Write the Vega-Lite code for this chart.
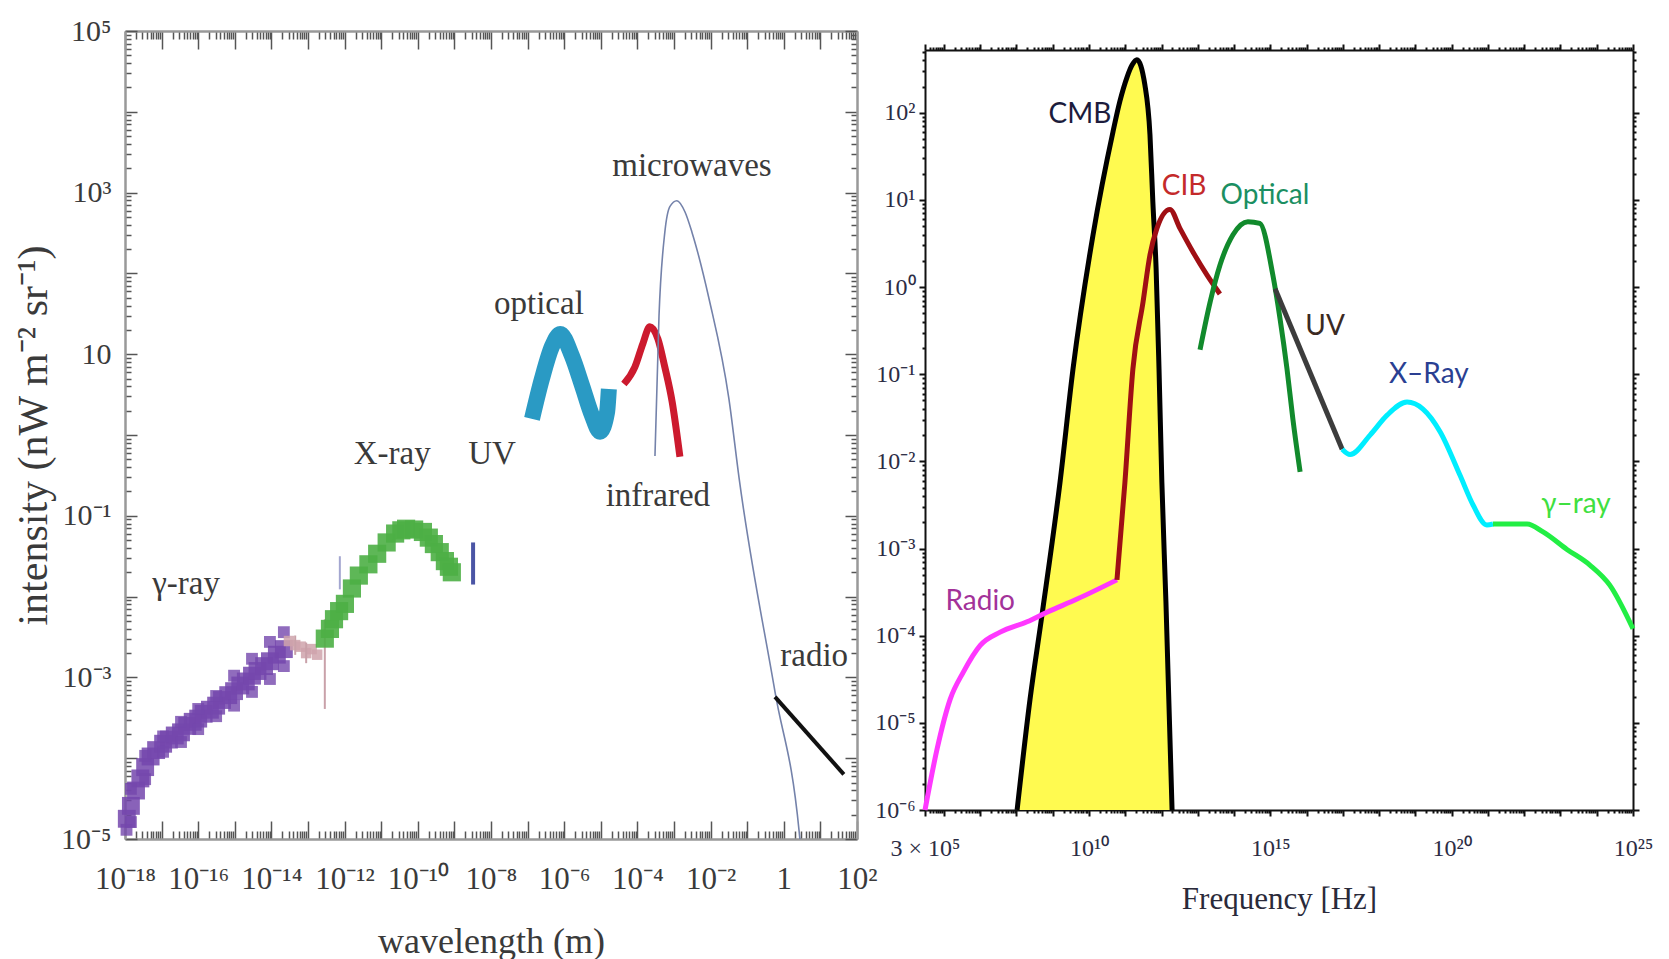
{
  "$schema": "https://vega.github.io/schema/vega-lite/v6.json",
  "background": "white",
  "padding": {"left": 12, "top": 16, "right": 5, "bottom": 0},
  "columns": 2,
  "align": "none",
  "spacing": -4,
  "config": {"view": {"stroke": null}},
  "resolve": {"scale": {"x": "independent", "y": "independent", "color": "independent"}},
  "datasets": {
    "leftPoints": [
      {"wl": 1.12e-18, "I": 1.78e-5, "grp": "gamma"}, {"wl": 1.45e-18, "I": 2.57e-5, "grp": "gamma"}, {"wl": 2.0e-18, "I": 3.98e-5, "grp": "gamma"}, {"wl": 2.63e-18, "I": 5.62e-5, "grp": "gamma"}, {"wl": 3.55e-18, "I": 7.76e-5, "grp": "gamma"}, {"wl": 5.01e-18, "I": 1.05e-4, "grp": "gamma"}, {"wl": 7.08e-18, "I": 1.26e-4, "grp": "gamma"}, {"wl": 1.1e-17, "I": 1.51e-4, "grp": "gamma"}, {"wl": 1.585e-17, "I": 1.7e-4, "grp": "gamma"}, {"wl": 2.29e-17, "I": 1.91e-4, "grp": "gamma"}, {"wl": 3.39e-17, "I": 2.09e-4, "grp": "gamma"}, {"wl": 5.01e-17, "I": 2.51e-4, "grp": "gamma"}, {"wl": 7.08e-17, "I": 2.82e-4, "grp": "gamma"}, {"wl": 1.0e-16, "I": 3.09e-4, "grp": "gamma"}, {"wl": 1.41e-16, "I": 3.55e-4, "grp": "gamma"}, {"wl": 2.09e-16, "I": 3.98e-4, "grp": "gamma"}, {"wl": 3.09e-16, "I": 4.47e-4, "grp": "gamma"}, {"wl": 4.47e-16, "I": 5.25e-4, "grp": "gamma"}, {"wl": 6.61e-16, "I": 6.03e-4, "grp": "gamma"}, {"wl": 9.55e-16, "I": 6.76e-4, "grp": "gamma"}, {"wl": 1.41e-15, "I": 7.94e-4, "grp": "gamma"}, {"wl": 2.0e-15, "I": 8.91e-4, "grp": "gamma"}, {"wl": 2.95e-15, "I": 1.05e-3, "grp": "gamma"}, {"wl": 4.17e-15, "I": 1.2e-3, "grp": "gamma"}, {"wl": 6.31e-15, "I": 1.38e-3, "grp": "gamma"}, {"wl": 9.12e-15, "I": 1.585e-3, "grp": "gamma"}, {"wl": 1.41e-14, "I": 1.91e-3, "grp": "gamma"}, {"wl": 2.19e-14, "I": 2.24e-3, "grp": "gamma"},
      {"wl": 1.1e-18, "I": 1.3e-5, "grp": "edge"}, {"wl": 1.45e-18, "I": 4.17e-5, "grp": "edge"}, {"wl": 1.45e-18, "I": 1.62e-5, "grp": "edge"}, {"wl": 3.55e-18, "I": 1.07e-4, "grp": "edge"}, {"wl": 3.55e-18, "I": 5.5e-5, "grp": "edge"}, {"wl": 1.1e-17, "I": 1.86e-4, "grp": "edge"}, {"wl": 1.1e-17, "I": 1.2e-4, "grp": "edge"}, {"wl": 3.39e-17, "I": 2.82e-4, "grp": "edge"}, {"wl": 3.39e-17, "I": 1.585e-4, "grp": "edge"}, {"wl": 1.0e-16, "I": 4.07e-4, "grp": "edge"}, {"wl": 1.0e-16, "I": 2.29e-4, "grp": "edge"}, {"wl": 3.09e-16, "I": 5.89e-4, "grp": "edge"}, {"wl": 3.09e-16, "I": 3.31e-4, "grp": "edge"}, {"wl": 9.55e-16, "I": 1.05e-3, "grp": "edge"}, {"wl": 9.55e-16, "I": 4.47e-4, "grp": "edge"}, {"wl": 2.95e-15, "I": 1.7e-3, "grp": "edge"}, {"wl": 2.95e-15, "I": 6.61e-4, "grp": "edge"}, {"wl": 9.12e-15, "I": 2.75e-3, "grp": "edge"}, {"wl": 9.12e-15, "I": 9.55e-4, "grp": "edge"}, {"wl": 2.19e-14, "I": 3.63e-3, "grp": "edge"}, {"wl": 2.19e-14, "I": 1.38e-3, "grp": "edge"},
      {"wl": 3.02e-14, "I": 2.82e-3, "grp": "pink"}, {"wl": 4.47e-14, "I": 2.51e-3, "grp": "pink"}, {"wl": 6.31e-14, "I": 2.4e-3, "grp": "pink"}, {"wl": 8.91e-14, "I": 2.0e-3, "grp": "pink"}, {"wl": 1.26e-13, "I": 2.24e-3, "grp": "pink"}, {"wl": 1.78e-13, "I": 1.91e-3, "grp": "pink"},
      {"wl": 2.88e-13, "I": 3.02e-3, "grp": "xray"}, {"wl": 3.98e-13, "I": 3.98e-3, "grp": "xray"}, {"wl": 5.13e-13, "I": 5.25e-3, "grp": "xray"}, {"wl": 7.08e-13, "I": 6.61e-3, "grp": "xray"}, {"wl": 1.02e-12, "I": 8.13e-3, "grp": "xray"}, {"wl": 1.585e-12, "I": 0.0126, "grp": "xray"}, {"wl": 2.45e-12, "I": 0.0182, "grp": "xray"}, {"wl": 4.47e-12, "I": 0.0251, "grp": "xray"}, {"wl": 7.76e-12, "I": 0.0339, "grp": "xray"}, {"wl": 1.41e-11, "I": 0.0468, "grp": "xray"}, {"wl": 2.4e-11, "I": 0.0603, "grp": "xray"}, {"wl": 3.55e-11, "I": 0.0661, "grp": "xray"}, {"wl": 4.79e-11, "I": 0.0692, "grp": "xray"}, {"wl": 7.94e-11, "I": 0.0676, "grp": "xray"}, {"wl": 1.38e-10, "I": 0.0631, "grp": "xray"}, {"wl": 2.0e-10, "I": 0.0537, "grp": "xray"}, {"wl": 2.75e-10, "I": 0.0447, "grp": "xray"}, {"wl": 3.98e-10, "I": 0.0355, "grp": "xray"}, {"wl": 5.5e-10, "I": 0.0275, "grp": "xray"}, {"wl": 7.08e-10, "I": 0.0234, "grp": "xray"}, {"wl": 8.51e-10, "I": 0.02, "grp": "xray"}
    ],
    "leftBars": [
      {"wl": 2.88e-13, "lo": 4.07e-4, "hi": 5.25e-3, "grp": "pink"},
      {"wl": 4.47e-14, "lo": 1.9e-3, "hi": 3.3e-3, "grp": "pink"},
      {"wl": 8.91e-14, "lo": 1.5e-3, "hi": 2.7e-3, "grp": "pink"},
      {"wl": 7.41e-13, "lo": 0.0123, "hi": 0.0316, "grp": "blue"},
      {"wl": 3.24e-9, "lo": 0.0141, "hi": 0.0468, "grp": "uv"}
    ],
    "leftLines": [
      {"wl": 1.32e-7, "I": 1.585, "series": "optical"}, {"wl": 2.45e-7, "I": 4.9, "series": "optical"}, {"wl": 4.68e-7, "I": 12.6, "series": "optical"}, {"wl": 7.76e-7, "I": 17.8, "series": "optical"}, {"wl": 1.62e-6, "I": 9.55, "series": "optical"}, {"wl": 3.09e-6, "I": 4.07, "series": "optical"}, {"wl": 5.75e-6, "I": 1.74, "series": "optical"}, {"wl": 9.55e-6, "I": 1.1, "series": "optical"}, {"wl": 1.48e-5, "I": 1.905, "series": "optical"}, {"wl": 1.66e-5, "I": 3.72, "series": "optical"},
      {"wl": 4.27e-5, "I": 4.27, "series": "infrared"}, {"wl": 8.51e-5, "I": 6.92, "series": "infrared"}, {"wl": 1.41e-4, "I": 13.5, "series": "infrared"}, {"wl": 2.19e-4, "I": 21.9, "series": "infrared"}, {"wl": 3.63e-4, "I": 15.5, "series": "infrared"}, {"wl": 5.62e-4, "I": 6.92, "series": "infrared"}, {"wl": 8.91e-4, "I": 2.57, "series": "infrared"}, {"wl": 1.45e-3, "I": 0.537, "series": "infrared"},
      {"wl": 3.02e-4, "I": 0.55, "series": "microwave"}, {"wl": 3.89e-4, "I": 29.5, "series": "microwave"}, {"wl": 5.62e-4, "I": 324, "series": "microwave"}, {"wl": 7.76e-4, "I": 676, "series": "microwave"}, {"wl": 1.2e-3, "I": 794, "series": "microwave"}, {"wl": 2.0e-3, "I": 575, "series": "microwave"}, {"wl": 3.09e-3, "I": 324, "series": "microwave"}, {"wl": 9.12e-3, "I": 47.9, "series": "microwave"}, {"wl": 0.0316, "I": 2.82, "series": "microwave"}, {"wl": 0.0603, "I": 0.288, "series": "microwave"}, {"wl": 0.575, "I": 6.61e-4, "series": "microwave"}, {"wl": 2.63, "I": 1.23e-5, "series": "microwave"}, {"wl": 2.75, "I": 1.0e-5, "series": "microwave"},
      {"wl": 0.575, "I": 5.75e-4, "series": "radio"}, {"wl": 43.7, "I": 6.31e-5, "series": "radio"}
    ],
    "leftLabels": [
      {"wl": 4.68e-17, "I": 0.0145, "text": "γ-ray"},
      {"wl": 2.0e-11, "I": 0.582, "text": "X-ray"},
      {"wl": 1.07e-8, "I": 0.582, "text": "UV"},
      {"wl": 2.04e-7, "I": 41.7, "text": "optical"},
      {"wl": 3.09e-3, "I": 2138, "text": "microwaves"},
      {"wl": 3.63e-4, "I": 0.176, "text": "infrared"},
      {"wl": 6.76, "I": 1.84e-3, "text": "radio"}
    ],
    "cmb": [
      {"f": 1.04e8, "I": 1e-6}, {"f": 2.36e8, "I": 1.86e-5}, {"f": 5.06e8, "I": 1.74e-4}, {"f": 1.585e9, "I": 5.75e-3}, {"f": 3.62e9, "I": 0.115}, {"f": 1.29e10, "I": 3.98}, {"f": 4.57e10, "I": 60.3}, {"f": 7.08e10, "I": 135}, {"f": 1.12e11, "I": 257}, {"f": 1.55e11, "I": 355}, {"f": 2.09e11, "I": 407}, {"f": 3.47e11, "I": 209}, {"f": 4.79e11, "I": 56.2}, {"f": 5.75e11, "I": 9.55}, {"f": 7.08e11, "I": 1.62}, {"f": 8.51e11, "I": 0.115}, {"f": 1.02e12, "I": 5.75e-3}, {"f": 1.32e12, "I": 2.45e-4}, {"f": 1.95e12, "I": 1e-6}
    ],
    "rightLines": [
      {"f": 3.0e5, "I": 1e-6, "series": "radio"}, {"f": 6.46e5, "I": 5.01e-6, "series": "radio"}, {"f": 1.48e6, "I": 1.86e-5, "series": "radio"}, {"f": 3.39e6, "I": 3.8e-5, "series": "radio"}, {"f": 1.0e7, "I": 7.76e-5, "series": "radio"}, {"f": 3.55e7, "I": 1.1e-4, "series": "radio"}, {"f": 1.95e8, "I": 1.445e-4, "series": "radio"}, {"f": 6.92e8, "I": 1.86e-4, "series": "radio"}, {"f": 4.68e9, "I": 2.63e-4, "series": "radio"}, {"f": 5.89e10, "I": 4.37e-4, "series": "radio"},
      {"f": 5.89e10, "I": 4.37e-4, "series": "cib"}, {"f": 9.77e10, "I": 5.75e-3, "series": "cib"}, {"f": 1.62e11, "I": 0.115, "series": "cib"}, {"f": 3.09e11, "I": 0.676, "series": "cib"}, {"f": 4.79e11, "I": 2.34, "series": "cib"}, {"f": 7.41e11, "I": 4.68, "series": "cib"}, {"f": 1.7e12, "I": 7.76, "series": "cib"}, {"f": 3.24e12, "I": 4.68, "series": "cib"}, {"f": 7.41e12, "I": 2.51, "series": "cib"}, {"f": 1.78e13, "I": 1.38, "series": "cib"}, {"f": 4.07e13, "I": 0.832, "series": "cib"},
      {"f": 1.15e13, "I": 0.191, "series": "optical"}, {"f": 2.19e13, "I": 0.676, "series": "optical"}, {"f": 4.07e13, "I": 1.78, "series": "optical"}, {"f": 9.33e13, "I": 3.98, "series": "optical"}, {"f": 2.4e14, "I": 5.62, "series": "optical"}, {"f": 5.13e14, "I": 5.37, "series": "optical"}, {"f": 1.17e15, "I": 1.38, "series": "optical"}, {"f": 1.86e15, "I": 0.427, "series": "optical"}, {"f": 2.88e15, "I": 0.115, "series": "optical"}, {"f": 4.17e15, "I": 0.0309, "series": "optical"}, {"f": 6.61e15, "I": 7.59e-3, "series": "optical"},
      {"f": 1.35e15, "I": 0.955, "series": "uv"}, {"f": 9.55e16, "I": 0.0138, "series": "uv"},
      {"f": 9.55e16, "I": 0.0138, "series": "xray"}, {"f": 1.585e17, "I": 0.012, "series": "xray"}, {"f": 5.62e17, "I": 0.02, "series": "xray"}, {"f": 1.66e18, "I": 0.0339, "series": "xray"}, {"f": 5.89e18, "I": 0.0479, "series": "xray"}, {"f": 1.62e19, "I": 0.0398, "series": "xray"}, {"f": 4.79e19, "I": 0.0219, "series": "xray"}, {"f": 1.7e20, "I": 6.92e-3, "series": "xray"}, {"f": 3.89e20, "I": 3.16e-3, "series": "xray"}, {"f": 9.33e20, "I": 1.86e-3, "series": "xray"}, {"f": 1.38e21, "I": 1.91e-3, "series": "xray"},
      {"f": 1.38e21, "I": 1.91e-3, "series": "gamma"}, {"f": 1.2e22, "I": 1.91e-3, "series": "gamma"}, {"f": 3.31e22, "I": 1.55e-3, "series": "gamma"}, {"f": 1.51e23, "I": 9.77e-4, "series": "gamma"}, {"f": 6.46e23, "I": 6.46e-4, "series": "gamma"}, {"f": 2.29e24, "I": 3.8e-4, "series": "gamma"}, {"f": 1e25, "I": 1.2e-4, "series": "gamma"}
    ],
    "rightLabels": [
      {"f": 5.62e9, "I": 95.5, "text": "CMB"},
      {"f": 4.17e12, "I": 14.1, "text": "CIB"},
      {"f": 7.08e14, "I": 11.0, "text": "Optical"},
      {"f": 3.24e16, "I": 0.347, "text": "UV"},
      {"f": 2.34e19, "I": 0.0977, "text": "X–Ray"},
      {"f": 2.69e23, "I": 3.16e-3, "text": "γ–ray"},
      {"f": 1e7, "I": 2.45e-4, "text": "Radio"}
    ]
  },
  "concat": [
    {
      "width": 732,
      "height": 808,
      "resolve": {"scale": {"color": "independent"}, "axis": {"x": "independent", "y": "independent"}},
      "layer": [
        {
          "data": {"name": "leftPoints"},
          "transform": [{"filter": "datum.grp == 'gamma'"}],
          "mark": {"type": "point", "shape": "square", "filled": true, "size": 320, "color": "#7447ad", "opacity": 0.85},
          "encoding": {
            "x": {"field": "wl", "type": "quantitative", "scale": {"type": "log", "domain": [1e-18, 100], "nice": false},
              "axis": {"orient": "bottom", "values": [1e-18,2e-18,3e-18,4e-18,5e-18,6e-18,7e-18,8e-18,9e-18,1e-17,2e-17,3e-17,4e-17,5e-17,6e-17,7e-17,8e-17,9e-17,1e-16,2e-16,3e-16,4e-16,5e-16,6e-16,7e-16,8e-16,9e-16,1e-15,2e-15,3e-15,4e-15,5e-15,6e-15,7e-15,8e-15,9e-15,1e-14,2e-14,3e-14,4e-14,5e-14,6e-14,7e-14,8e-14,9e-14,1e-13,2e-13,3e-13,4e-13,5e-13,6e-13,7e-13,8e-13,9e-13,1e-12,2e-12,3e-12,4e-12,5e-12,6e-12,7e-12,8e-12,9e-12,1e-11,2e-11,3e-11,4e-11,5e-11,6e-11,7e-11,8e-11,9e-11,1e-10,2e-10,3e-10,4e-10,5e-10,6e-10,7e-10,8e-10,9e-10,1e-9,2e-9,3e-9,4e-9,5e-9,6e-9,7e-9,8e-9,9e-9,1e-8,2e-8,3e-8,4e-8,5e-8,6e-8,7e-8,8e-8,9e-8,1e-7,2e-7,3e-7,4e-7,5e-7,6e-7,7e-7,8e-7,9e-7,1e-6,2e-6,3e-6,4e-6,5e-6,6e-6,7e-6,8e-6,9e-6,1e-5,2e-5,3e-5,4e-5,5e-5,6e-5,7e-5,8e-5,9e-5,1e-4,2e-4,3e-4,4e-4,5e-4,6e-4,7e-4,8e-4,9e-4,0.001,0.002,0.003,0.004,0.005,0.006,0.007,0.008,0.009,0.01,0.02,0.03,0.04,0.05,0.06,0.07,0.08,0.09,0.1,0.2,0.3,0.4,0.5,0.6,0.7,0.8,0.9,1,2,3,4,5,6,7,8,9,10,20,30,40,50,60,70,80,90,100],
                "labelExpr": "abs(log(datum.value)/LN10 - round(log(datum.value)/LN10)) > 0.01 ? '' : round(log(datum.value)/LN10) == 0 ? '1' : round(log(datum.value)/LN10) % 2 != 0 ? '' : '10' + (datum.value < 1 ? '⁻' : '') + (abs(round(log(datum.value)/LN10)) >= 10 ? ['⁰','¹','²','³','⁴','⁵','⁶','⁷','⁸','⁹'][floor(abs(round(log(datum.value)/LN10))/10)] : '') + ['⁰','¹','²','³','⁴','⁵','⁶','⁷','⁸','⁹'][abs(round(log(datum.value)/LN10)) % 10]",
                "labelFont": "Liberation Serif", "labelFontSize": 31, "labelColor": "#3a3a3a", "labelPadding": 43, "labelOverlap": false, "labelFlush": false, "labelBound": false,
                "tickSize": {"condition": {"test": "abs(log(datum.value)/LN10 - round(log(datum.value)/LN10)) < 0.01", "value": -18}, "value": -8},
                "tickColor": "#555555", "tickWidth": 1.5, "domainColor": "#999999", "domainWidth": 2.5, "grid": false,
                "title": "wavelength (m)", "titleFont": "Liberation Serif", "titleFontSize": 36, "titleFontWeight": "normal", "titleColor": "#3a3a3a", "titlePadding": 27, "minExtent": 58, "maxExtent": 58}},
            "y": {"field": "I", "type": "quantitative", "scale": {"type": "log", "domain": [1e-5, 100000], "nice": false},
              "axis": {"orient": "left", "values": [1e-5,2e-5,3e-5,4e-5,5e-5,6e-5,7e-5,8e-5,9e-5,1e-4,2e-4,3e-4,4e-4,5e-4,6e-4,7e-4,8e-4,9e-4,0.001,0.002,0.003,0.004,0.005,0.006,0.007,0.008,0.009,0.01,0.02,0.03,0.04,0.05,0.06,0.07,0.08,0.09,0.1,0.2,0.3,0.4,0.5,0.6,0.7,0.8,0.9,1,2,3,4,5,6,7,8,9,10,20,30,40,50,60,70,80,90,100,200,300,400,500,600,700,800,900,1000,2000,3000,4000,5000,6000,7000,8000,9000,10000,20000,30000,40000,50000,60000,70000,80000,90000,100000],
                "labelExpr": "abs(log(datum.value)/LN10 - round(log(datum.value)/LN10)) > 0.01 ? '' : round(log(datum.value)/LN10) % 2 == 0 ? '' : round(log(datum.value)/LN10) == 1 ? '10' : '10' + (datum.value < 1 ? '⁻' : '') + ['⁰','¹','²','³','⁴','⁵','⁶','⁷','⁸','⁹'][abs(round(log(datum.value)/LN10))]",
                "labelFont": "Liberation Serif", "labelFontSize": 30, "labelColor": "#3a3a3a", "labelPadding": 26, "labelOverlap": false, "labelFlush": false, "labelBound": false,
                "tickSize": {"condition": {"test": "abs(log(datum.value)/LN10 - round(log(datum.value)/LN10)) < 0.01", "value": -12}, "value": -6},
                "tickColor": "#555555", "tickWidth": 1.5, "domainColor": "#999999", "domainWidth": 2.5, "grid": false,
                "title": "intensity (nW m⁻² sr⁻¹)", "titleFont": "Liberation Serif", "titleFontSize": 42, "titleFontWeight": "normal", "titleColor": "#3a3a3a", "titlePadding": 8, "minExtent": 62, "maxExtent": 62}}
          }
        },
        {
          "data": {"name": "leftPoints"},
          "transform": [{"filter": "datum.grp == 'edge'"}],
          "mark": {"type": "point", "shape": "square", "filled": true, "size": 140, "color": "#7447ad", "opacity": 0.8},
          "encoding": {
            "x": {"field": "wl", "type": "quantitative", "scale": {"type": "log", "domain": [1e-18, 100], "nice": false}, "axis": null},
            "y": {"field": "I", "type": "quantitative", "scale": {"type": "log", "domain": [1e-5, 100000], "nice": false}, "axis": null}
          }
        },
        {
          "data": {"name": "leftPoints"},
          "transform": [{"filter": "datum.grp == 'pink'"}],
          "mark": {"type": "point", "shape": "square", "filled": true, "size": 110, "color": "#cfa3ab", "opacity": 0.85},
          "encoding": {
            "x": {"field": "wl", "type": "quantitative", "scale": {"type": "log", "domain": [1e-18, 100], "nice": false}, "axis": null},
            "y": {"field": "I", "type": "quantitative", "scale": {"type": "log", "domain": [1e-5, 100000], "nice": false}, "axis": null}
          }
        },
        {
          "data": {"name": "leftBars"},
          "transform": [{"filter": "datum.grp != 'uv'"}],
          "mark": {"type": "rule", "strokeWidth": 2},
          "encoding": {
            "x": {"field": "wl", "type": "quantitative", "scale": {"type": "log", "domain": [1e-18, 100], "nice": false}, "axis": null},
            "y": {"field": "lo", "type": "quantitative", "scale": {"type": "log", "domain": [1e-5, 100000], "nice": false}, "axis": null},
            "y2": {"field": "hi"},
            "color": {"field": "grp", "type": "nominal", "scale": {"domain": ["pink", "blue"], "range": ["#c9a1a9", "#a3a6d0"]}, "legend": null}
          }
        },
        {
          "data": {"name": "leftPoints"},
          "transform": [{"filter": "datum.grp == 'xray'"}],
          "mark": {"type": "point", "shape": "square", "filled": true, "size": 330, "color": "#4caf45", "opacity": 0.9},
          "encoding": {
            "x": {"field": "wl", "type": "quantitative", "scale": {"type": "log", "domain": [1e-18, 100], "nice": false}, "axis": null},
            "y": {"field": "I", "type": "quantitative", "scale": {"type": "log", "domain": [1e-5, 100000], "nice": false}, "axis": null}
          }
        },
        {
          "data": {"name": "leftBars"},
          "transform": [{"filter": "datum.grp == 'uv'"}],
          "mark": {"type": "rule", "strokeWidth": 4, "color": "#4b55a5"},
          "encoding": {
            "x": {"field": "wl", "type": "quantitative", "scale": {"type": "log", "domain": [1e-18, 100], "nice": false}, "axis": null},
            "y": {"field": "lo", "type": "quantitative", "scale": {"type": "log", "domain": [1e-5, 100000], "nice": false}, "axis": null},
            "y2": {"field": "hi"}
          }
        },
        {
          "data": {"name": "leftLines"},
          "transform": [{"filter": "datum.series == 'optical'"}],
          "mark": {"type": "line", "color": "#2a9ac4", "strokeWidth": 16, "interpolate": "monotone", "strokeCap": "butt"},
          "encoding": {
            "x": {"field": "wl", "type": "quantitative", "scale": {"type": "log", "domain": [1e-18, 100], "nice": false}, "axis": null},
            "y": {"field": "I", "type": "quantitative", "scale": {"type": "log", "domain": [1e-5, 100000], "nice": false}, "axis": null}
          }
        },
        {
          "data": {"name": "leftLines"},
          "transform": [{"filter": "datum.series == 'infrared'"}],
          "mark": {"type": "line", "color": "#cc1a2e", "strokeWidth": 7, "interpolate": "monotone"},
          "encoding": {
            "x": {"field": "wl", "type": "quantitative", "scale": {"type": "log", "domain": [1e-18, 100], "nice": false}, "axis": null},
            "y": {"field": "I", "type": "quantitative", "scale": {"type": "log", "domain": [1e-5, 100000], "nice": false}, "axis": null}
          }
        },
        {
          "data": {"name": "leftLines"},
          "transform": [{"filter": "datum.series == 'microwave'"}],
          "mark": {"type": "line", "color": "#7482aa", "strokeWidth": 1.6, "interpolate": "monotone"},
          "encoding": {
            "x": {"field": "wl", "type": "quantitative", "scale": {"type": "log", "domain": [1e-18, 100], "nice": false},
              "axis": {"orient": "top", "values": [1e-18,2e-18,3e-18,4e-18,5e-18,6e-18,7e-18,8e-18,9e-18,1e-17,2e-17,3e-17,4e-17,5e-17,6e-17,7e-17,8e-17,9e-17,1e-16,2e-16,3e-16,4e-16,5e-16,6e-16,7e-16,8e-16,9e-16,1e-15,2e-15,3e-15,4e-15,5e-15,6e-15,7e-15,8e-15,9e-15,1e-14,2e-14,3e-14,4e-14,5e-14,6e-14,7e-14,8e-14,9e-14,1e-13,2e-13,3e-13,4e-13,5e-13,6e-13,7e-13,8e-13,9e-13,1e-12,2e-12,3e-12,4e-12,5e-12,6e-12,7e-12,8e-12,9e-12,1e-11,2e-11,3e-11,4e-11,5e-11,6e-11,7e-11,8e-11,9e-11,1e-10,2e-10,3e-10,4e-10,5e-10,6e-10,7e-10,8e-10,9e-10,1e-9,2e-9,3e-9,4e-9,5e-9,6e-9,7e-9,8e-9,9e-9,1e-8,2e-8,3e-8,4e-8,5e-8,6e-8,7e-8,8e-8,9e-8,1e-7,2e-7,3e-7,4e-7,5e-7,6e-7,7e-7,8e-7,9e-7,1e-6,2e-6,3e-6,4e-6,5e-6,6e-6,7e-6,8e-6,9e-6,1e-5,2e-5,3e-5,4e-5,5e-5,6e-5,7e-5,8e-5,9e-5,1e-4,2e-4,3e-4,4e-4,5e-4,6e-4,7e-4,8e-4,9e-4,0.001,0.002,0.003,0.004,0.005,0.006,0.007,0.008,0.009,0.01,0.02,0.03,0.04,0.05,0.06,0.07,0.08,0.09,0.1,0.2,0.3,0.4,0.5,0.6,0.7,0.8,0.9,1,2,3,4,5,6,7,8,9,10,20,30,40,50,60,70,80,90,100],
                "labels": false, "tickSize": {"condition": {"test": "abs(log(datum.value)/LN10 - round(log(datum.value)/LN10)) < 0.01", "value": -18}, "value": -8},
                "tickColor": "#555555", "tickWidth": 1.5, "domainColor": "#999999", "domainWidth": 2.5, "grid": false, "title": null, "minExtent": 0, "maxExtent": 0}},
            "y": {"field": "I", "type": "quantitative", "scale": {"type": "log", "domain": [1e-5, 100000], "nice": false},
              "axis": {"orient": "right", "values": [1e-5,2e-5,3e-5,4e-5,5e-5,6e-5,7e-5,8e-5,9e-5,1e-4,2e-4,3e-4,4e-4,5e-4,6e-4,7e-4,8e-4,9e-4,0.001,0.002,0.003,0.004,0.005,0.006,0.007,0.008,0.009,0.01,0.02,0.03,0.04,0.05,0.06,0.07,0.08,0.09,0.1,0.2,0.3,0.4,0.5,0.6,0.7,0.8,0.9,1,2,3,4,5,6,7,8,9,10,20,30,40,50,60,70,80,90,100,200,300,400,500,600,700,800,900,1000,2000,3000,4000,5000,6000,7000,8000,9000,10000,20000,30000,40000,50000,60000,70000,80000,90000,100000],
                "labels": false, "tickSize": {"condition": {"test": "abs(log(datum.value)/LN10 - round(log(datum.value)/LN10)) < 0.01", "value": -12}, "value": -6},
                "tickColor": "#555555", "tickWidth": 1.5, "domainColor": "#999999", "domainWidth": 2.5, "grid": false, "title": null, "minExtent": 0, "maxExtent": 0}}
          }
        },
        {
          "data": {"name": "leftLines"},
          "transform": [{"filter": "datum.series == 'radio'"}],
          "mark": {"type": "line", "color": "#111111", "strokeWidth": 4},
          "encoding": {
            "x": {"field": "wl", "type": "quantitative", "scale": {"type": "log", "domain": [1e-18, 100], "nice": false}, "axis": null},
            "y": {"field": "I", "type": "quantitative", "scale": {"type": "log", "domain": [1e-5, 100000], "nice": false}, "axis": null}
          }
        },
        {
          "data": {"name": "leftLabels"},
          "mark": {"type": "text", "font": "Liberation Serif", "fontSize": 33, "color": "#3a3a3a", "align": "center", "baseline": "middle"},
          "encoding": {
            "x": {"field": "wl", "type": "quantitative", "scale": {"type": "log", "domain": [1e-18, 100], "nice": false}, "axis": null},
            "y": {"field": "I", "type": "quantitative", "scale": {"type": "log", "domain": [1e-5, 100000], "nice": false}, "axis": null},
            "text": {"field": "text"}
          }
        }
      ]
    },
    {
      "spacing": 7,
      "vconcat": [
        {
          "width": 708,
          "height": 1,
          "data": {"values": []},
          "mark": "point"
        },
        {
          "width": 708,
          "height": 760,
          "resolve": {"scale": {"color": "independent"}, "axis": {"x": "independent", "y": "independent"}},
          "layer": [
            {
              "data": {"name": "cmb"},
              "mark": {"type": "area", "color": "#fffa50", "opacity": 1, "interpolate": "monotone"},
              "encoding": {
                "x": {"field": "f", "type": "quantitative", "scale": {"type": "log", "domain": [300000, 1e25], "nice": false},
                  "axis": {"orient": "bottom", "values": [300000,400000,500000,600000,700000,800000,900000,1e6,2e6,3e6,4e6,5e6,6e6,7e6,8e6,9e6,1e7,2e7,3e7,4e7,5e7,6e7,7e7,8e7,9e7,1e8,2e8,3e8,4e8,5e8,6e8,7e8,8e8,9e8,1e9,2e9,3e9,4e9,5e9,6e9,7e9,8e9,9e9,1e10,2e10,3e10,4e10,5e10,6e10,7e10,8e10,9e10,1e11,2e11,3e11,4e11,5e11,6e11,7e11,8e11,9e11,1e12,2e12,3e12,4e12,5e12,6e12,7e12,8e12,9e12,1e13,2e13,3e13,4e13,5e13,6e13,7e13,8e13,9e13,1e14,2e14,3e14,4e14,5e14,6e14,7e14,8e14,9e14,1e15,2e15,3e15,4e15,5e15,6e15,7e15,8e15,9e15,1e16,2e16,3e16,4e16,5e16,6e16,7e16,8e16,9e16,1e17,2e17,3e17,4e17,5e17,6e17,7e17,8e17,9e17,1e18,2e18,3e18,4e18,5e18,6e18,7e18,8e18,9e18,1e19,2e19,3e19,4e19,5e19,6e19,7e19,8e19,9e19,1e20,2e20,3e20,4e20,5e20,6e20,7e20,8e20,9e20,1e21,2e21,3e21,4e21,5e21,6e21,7e21,8e21,9e21,1e22,2e22,3e22,4e22,5e22,6e22,7e22,8e22,9e22,1e23,2e23,3e23,4e23,5e23,6e23,7e23,8e23,9e23,1e24,2e24,3e24,4e24,5e24,6e24,7e24,8e24,9e24,1e25],
                    "labelExpr": "datum.value == 300000 ? '3 × 10⁵' : abs(log(datum.value)/LN10 - round(log(datum.value)/LN10)) > 0.01 ? '' : round(log(datum.value)/LN10) % 5 != 0 ? '' : '10' + ['⁰','¹','²','³','⁴','⁵','⁶','⁷','⁸','⁹'][floor(round(log(datum.value)/LN10)/10)] + ['⁰','¹','²','³','⁴','⁵','⁶','⁷','⁸','⁹'][round(log(datum.value)/LN10) % 10]",
                    "labelFont": "Liberation Serif", "labelFontSize": 24, "labelColor": "#2c2c44", "labelPadding": 20, "labelOverlap": false, "labelFlush": false, "labelBound": false,
                    "tickSize": {"condition": {"test": "datum.value == 300000 || abs(log(datum.value)/LN10 - round(log(datum.value)/LN10)) < 0.01", "value": 6}, "value": 3},
                    "tickWidth": 2, "tickColor": "#111111", "domainColor": "#111111", "domainWidth": 2, "grid": false,
                    "title": "Frequency [Hz]", "titleFont": "Liberation Serif", "titleFontSize": 31, "titleFontWeight": "normal", "titleColor": "#2a2a3a", "titlePadding": 26, "minExtent": 48, "maxExtent": 48}},
                "y": {"field": "I", "type": "quantitative", "scale": {"type": "log", "domain": [1e-6, 525], "nice": false},
                  "axis": {"orient": "left", "values": [1e-6,2e-6,3e-6,4e-6,5e-6,6e-6,7e-6,8e-6,9e-6,1e-5,2e-5,3e-5,4e-5,5e-5,6e-5,7e-5,8e-5,9e-5,1e-4,2e-4,3e-4,4e-4,5e-4,6e-4,7e-4,8e-4,9e-4,0.001,0.002,0.003,0.004,0.005,0.006,0.007,0.008,0.009,0.01,0.02,0.03,0.04,0.05,0.06,0.07,0.08,0.09,0.1,0.2,0.3,0.4,0.5,0.6,0.7,0.8,0.9,1,2,3,4,5,6,7,8,9,10,20,30,40,50,60,70,80,90,100,200,300,400,500],
                    "labelExpr": "abs(log(datum.value)/LN10 - round(log(datum.value)/LN10)) > 0.01 ? '' : '10' + (datum.value < 0.5 ? '⁻' : '') + ['⁰','¹','²','³','⁴','⁵','⁶','⁷','⁸','⁹'][abs(round(log(datum.value)/LN10))]",
                    "labelFont": "Liberation Serif", "labelFontSize": 24, "labelColor": "#2c2c44", "labelPadding": 4, "labelOverlap": false, "labelFlush": false, "labelBound": false,
                    "tickSize": {"condition": {"test": "abs(log(datum.value)/LN10 - round(log(datum.value)/LN10)) < 0.01", "value": 6}, "value": 3},
                    "tickWidth": 2, "tickColor": "#111111", "domainColor": "#111111", "domainWidth": 2, "grid": false,
                    "title": null, "minExtent": 50, "maxExtent": 50}},
                "y2": {"datum": 1e-6}
              }
            },
            {
              "data": {"name": "cmb"},
              "mark": {"type": "line", "color": "#000000", "strokeWidth": 5, "interpolate": "monotone"},
              "encoding": {
                "x": {"field": "f", "type": "quantitative", "scale": {"type": "log", "domain": [300000, 1e25], "nice": false},
                  "axis": {"orient": "top", "values": [300000,400000,500000,600000,700000,800000,900000,1e6,2e6,3e6,4e6,5e6,6e6,7e6,8e6,9e6,1e7,2e7,3e7,4e7,5e7,6e7,7e7,8e7,9e7,1e8,2e8,3e8,4e8,5e8,6e8,7e8,8e8,9e8,1e9,2e9,3e9,4e9,5e9,6e9,7e9,8e9,9e9,1e10,2e10,3e10,4e10,5e10,6e10,7e10,8e10,9e10,1e11,2e11,3e11,4e11,5e11,6e11,7e11,8e11,9e11,1e12,2e12,3e12,4e12,5e12,6e12,7e12,8e12,9e12,1e13,2e13,3e13,4e13,5e13,6e13,7e13,8e13,9e13,1e14,2e14,3e14,4e14,5e14,6e14,7e14,8e14,9e14,1e15,2e15,3e15,4e15,5e15,6e15,7e15,8e15,9e15,1e16,2e16,3e16,4e16,5e16,6e16,7e16,8e16,9e16,1e17,2e17,3e17,4e17,5e17,6e17,7e17,8e17,9e17,1e18,2e18,3e18,4e18,5e18,6e18,7e18,8e18,9e18,1e19,2e19,3e19,4e19,5e19,6e19,7e19,8e19,9e19,1e20,2e20,3e20,4e20,5e20,6e20,7e20,8e20,9e20,1e21,2e21,3e21,4e21,5e21,6e21,7e21,8e21,9e21,1e22,2e22,3e22,4e22,5e22,6e22,7e22,8e22,9e22,1e23,2e23,3e23,4e23,5e23,6e23,7e23,8e23,9e23,1e24,2e24,3e24,4e24,5e24,6e24,7e24,8e24,9e24,1e25],
                    "labels": false, "tickSize": {"condition": {"test": "datum.value == 300000 || abs(log(datum.value)/LN10 - round(log(datum.value)/LN10)) < 0.01", "value": 6}, "value": 3},
                    "tickWidth": 2, "tickColor": "#111111", "domainColor": "#111111", "domainWidth": 2, "grid": false, "title": null, "minExtent": 6, "maxExtent": 6}},
                "y": {"field": "I", "type": "quantitative", "scale": {"type": "log", "domain": [1e-6, 525], "nice": false},
                  "axis": {"orient": "right", "values": [1e-6,2e-6,3e-6,4e-6,5e-6,6e-6,7e-6,8e-6,9e-6,1e-5,2e-5,3e-5,4e-5,5e-5,6e-5,7e-5,8e-5,9e-5,1e-4,2e-4,3e-4,4e-4,5e-4,6e-4,7e-4,8e-4,9e-4,0.001,0.002,0.003,0.004,0.005,0.006,0.007,0.008,0.009,0.01,0.02,0.03,0.04,0.05,0.06,0.07,0.08,0.09,0.1,0.2,0.3,0.4,0.5,0.6,0.7,0.8,0.9,1,2,3,4,5,6,7,8,9,10,20,30,40,50,60,70,80,90,100,200,300,400,500],
                    "labels": false, "tickSize": {"condition": {"test": "abs(log(datum.value)/LN10 - round(log(datum.value)/LN10)) < 0.01", "value": 6}, "value": 3},
                    "tickWidth": 2, "tickColor": "#111111", "domainColor": "#111111", "domainWidth": 2, "grid": false, "title": null, "minExtent": 0, "maxExtent": 0}}
              }
            },
            {
              "data": {"name": "rightLines"},
              "mark": {"type": "line", "strokeWidth": 5, "interpolate": "monotone"},
              "encoding": {
                "x": {"field": "f", "type": "quantitative", "scale": {"type": "log", "domain": [300000, 1e25], "nice": false}, "axis": null},
                "y": {"field": "I", "type": "quantitative", "scale": {"type": "log", "domain": [1e-6, 525], "nice": false}, "axis": null},
                "color": {"field": "series", "type": "nominal", "scale": {"domain": ["radio", "cib", "optical", "uv", "xray", "gamma"], "range": ["#ff38ff", "#a00f14", "#118a2c", "#3c3c3c", "#00eeff", "#22ee44"]}, "legend": null}
              }
            },
            {
              "data": {"name": "rightLabels"},
              "mark": {"type": "text", "font": "Lato", "fontSize": 28, "align": "center", "baseline": "middle"},
              "encoding": {
                "x": {"field": "f", "type": "quantitative", "scale": {"type": "log", "domain": [300000, 1e25], "nice": false}, "axis": null},
                "y": {"field": "I", "type": "quantitative", "scale": {"type": "log", "domain": [1e-6, 525], "nice": false}, "axis": null},
                "text": {"field": "text"},
                "color": {"field": "text", "type": "nominal", "scale": {"domain": ["CMB", "CIB", "Optical", "UV", "X–Ray", "γ–ray", "Radio"], "range": ["#1c1c3c", "#c42a2a", "#1b8f62", "#3b2a22", "#2a3f92", "#3fe040", "#a33299"]}, "legend": null}
              }
            }
          ]
        }
      ]
    }
  ]
}
